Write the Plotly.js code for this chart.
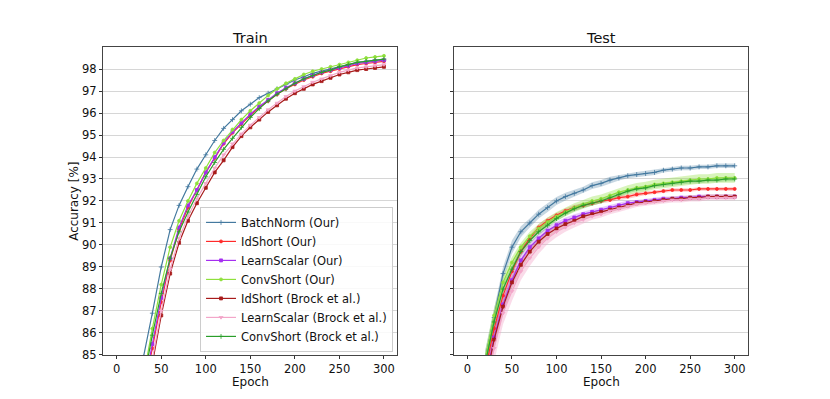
<!DOCTYPE html>
<html><head><meta charset="utf-8">
<script src="https://cdn.plot.ly/plotly-3.0.1.min.js"></script>
<style>html,body{margin:0;padding:0;background:#fff}#chart{width:830px;height:399px}</style>
</head><body><div id="chart"></div>
<script>
// ---------- data ----------
const epochs = [0,10,20,30,40,50,60,70,80,90,100,110,120,130,140,150,160,170,180,190,200,210,220,230,240,250,260,270,280,290,300];
const seriesNames = ["BatchNorm (Our)","IdShort (Our)","LearnScalar (Our)","ConvShort (Our)","IdShort (Brock et al.)","LearnScalar (Brock et al.)","ConvShort (Brock et al.)"];
const xTicks = [0,50,100,150,200,250,300];
const yTicks = [85,86,87,88,89,90,91,92,93,94,95,96,97,98];

const trainBatchNorm       = [30,70,81.5,84.9,86.9,89.0,90.7,91.8,92.65,93.45,94.1,94.75,95.3,95.7,96.1,96.4,96.7,96.9,97.1,97.3,97.5,97.65,97.8,97.9,98.0,98.1,98.2,98.3,98.35,98.4,98.4];
const trainIdShortOur      = [28,66,79.3,83.3,85.3,87.4,89.3,90.7,91.7,92.5,93.3,93.95,94.6,95.1,95.5,95.9,96.25,96.55,96.85,97.1,97.3,97.5,97.65,97.8,97.9,98.0,98.1,98.2,98.25,98.3,98.35];
const trainLearnScalarOur  = [28,66,79.5,83.4,85.5,87.6,89.4,90.8,91.8,92.5,93.3,94.0,94.65,95.15,95.55,95.95,96.3,96.6,96.9,97.15,97.35,97.55,97.7,97.85,97.95,98.05,98.15,98.25,98.3,98.35,98.4];
const trainConvShortOur    = [29,68,80.5,84.0,86.2,88.2,89.9,91.1,92.0,92.8,93.5,94.2,94.75,95.25,95.7,96.1,96.45,96.8,97.1,97.35,97.55,97.75,97.9,98.0,98.1,98.2,98.3,98.4,98.5,98.55,98.6];
const trainIdShortBrock    = [27,65,78.5,82.7,84.6,86.8,88.7,90.1,91.1,91.9,92.6,93.3,93.85,94.45,94.95,95.35,95.7,96.05,96.35,96.65,96.9,97.1,97.3,97.45,97.6,97.75,97.85,97.95,98.0,98.05,98.1];
const trainLearnScalarBrock= [27,65,78.8,82.8,84.8,87.0,88.9,90.3,91.3,92.1,92.8,93.5,94.1,94.6,95.05,95.45,95.8,96.15,96.45,96.75,97.0,97.2,97.4,97.55,97.7,97.85,97.95,98.05,98.1,98.15,98.2];
const trainConvShortBrock  = [28,67,80.0,83.8,85.9,87.8,89.4,90.6,91.5,92.3,93.1,93.75,94.35,94.85,95.35,95.8,96.2,96.55,96.85,97.1,97.35,97.55,97.7,97.85,97.95,98.1,98.2,98.3,98.35,98.4,98.45];

const testBatchNorm        = [40,72,84.8,86.7,88.7,89.9,90.6,91.0,91.4,91.7,92.0,92.2,92.35,92.5,92.7,92.8,92.95,93.05,93.15,93.2,93.25,93.3,93.4,93.45,93.5,93.5,93.55,93.55,93.6,93.6,93.6];
const testIdShortOur       = [38,70,84.3,86.2,87.7,88.8,89.7,90.3,90.8,91.1,91.35,91.55,91.7,91.8,91.9,92.0,92.05,92.15,92.2,92.3,92.35,92.4,92.45,92.5,92.5,92.5,92.55,92.55,92.55,92.55,92.55];
const testLearnScalarOur   = [37,69,83.8,85.8,87.3,88.4,89.3,89.9,90.3,90.65,90.9,91.1,91.25,91.4,91.5,91.6,91.7,91.8,91.9,91.95,92.0,92.05,92.1,92.1,92.15,92.15,92.2,92.2,92.2,92.2,92.2];
const testConvShortOur     = [39,71,84.8,86.8,88.3,89.2,89.9,90.4,90.75,91.05,91.3,91.5,91.7,91.85,92.0,92.1,92.25,92.4,92.5,92.6,92.65,92.75,92.8,92.85,92.9,92.95,93.0,93.0,93.05,93.05,93.05];
const testIdShortBrock     = [37,69,83.7,85.7,87.2,88.3,89.1,89.7,90.15,90.5,90.75,90.95,91.1,91.3,91.4,91.5,91.6,91.7,91.8,91.9,91.95,92.0,92.05,92.1,92.1,92.15,92.15,92.2,92.2,92.2,92.2];
const testLearnScalarBrock = [36,68,83.3,85.3,86.9,87.9,88.8,89.4,89.9,90.3,90.6,90.8,91.0,91.15,91.3,91.4,91.55,91.65,91.75,91.85,91.9,91.95,92.0,92.05,92.05,92.1,92.1,92.15,92.15,92.15,92.15];
const testConvShortBrock   = [39,71,84.6,86.5,88.0,88.9,89.7,90.2,90.6,90.9,91.2,91.45,91.65,91.8,91.9,92.0,92.15,92.3,92.45,92.55,92.6,92.7,92.75,92.8,92.85,92.9,92.9,92.95,92.95,93.0,93.0];

// half-width of the shaded spread around each test curve
const spreadBatchNorm        = [1,1,0.4,0.35,0.3,0.3,0.25,0.2,0.2,0.2,0.18,0.18,0.15,0.15,0.15,0.15,0.15,0.12,0.12,0.12,0.12,0.12,0.1,0.1,0.1,0.1,0.1,0.1,0.1,0.1,0.1];
const spreadIdShortOur       = [1,1,0.4,0.3,0.25,0.2,0.2,0.15,0.15,0.15,0.12,0.12,0.12,0.1,0.1,0.1,0.1,0.1,0.1,0.1,0.08,0.08,0.08,0.08,0.08,0.08,0.08,0.08,0.08,0.08,0.08];
const spreadLearnScalarOur   = [1,1,0.5,0.4,0.35,0.3,0.25,0.2,0.2,0.18,0.15,0.15,0.15,0.12,0.12,0.12,0.12,0.12,0.12,0.1,0.1,0.1,0.1,0.1,0.1,0.1,0.1,0.1,0.1,0.1,0.1];
const spreadConvShortOur     = [1,1,0.4,0.35,0.3,0.25,0.2,0.2,0.2,0.2,0.2,0.2,0.2,0.2,0.2,0.2,0.2,0.2,0.22,0.22,0.22,0.22,0.22,0.22,0.22,0.22,0.22,0.22,0.22,0.22,0.22];
const spreadIdShortBrock     = [1,1,0.5,0.4,0.35,0.3,0.25,0.2,0.2,0.18,0.15,0.15,0.15,0.12,0.12,0.12,0.12,0.12,0.1,0.1,0.1,0.1,0.1,0.1,0.1,0.1,0.1,0.1,0.1,0.1,0.1];
const spreadLearnScalarBrock = [1,1,0.7,0.6,0.5,0.45,0.4,0.35,0.3,0.25,0.25,0.2,0.2,0.18,0.15,0.15,0.15,0.15,0.12,0.12,0.12,0.12,0.12,0.12,0.12,0.12,0.12,0.12,0.12,0.12,0.12];
const spreadConvShortBrock   = [1,1,0.4,0.3,0.25,0.2,0.2,0.15,0.15,0.15,0.12,0.12,0.12,0.12,0.12,0.1,0.1,0.1,0.1,0.1,0.1,0.1,0.1,0.1,0.1,0.1,0.1,0.1,0.1,0.1,0.1];

// ---------- styles ----------
const trainData = [trainBatchNorm,trainIdShortOur,trainLearnScalarOur,trainConvShortOur,trainIdShortBrock,trainLearnScalarBrock,trainConvShortBrock];
const testData  = [testBatchNorm,testIdShortOur,testLearnScalarOur,testConvShortOur,testIdShortBrock,testLearnScalarBrock,testConvShortBrock];
const spreadData= [spreadBatchNorm,spreadIdShortOur,spreadLearnScalarOur,spreadConvShortOur,spreadIdShortBrock,spreadLearnScalarBrock,spreadConvShortBrock];
const colors = ["#44799f","#ff2a2a","#a52ef0","#8fe03c","#a81b1b","#f3a6c9","#2a9e2a"];
const bandColors = ["rgba(68,121,159,0.3)","rgba(255,42,42,0.25)","rgba(165,46,240,0.25)","rgba(143,224,60,0.35)","rgba(168,27,27,0.25)","rgba(243,166,201,0.4)","rgba(42,158,42,0.25)"];
const symbols = ["cross-thin","circle","square","circle","square","triangle-down","cross-thin"];
const sizes = [3.5,3,3,3,3,3.5,3.5];

const FONT = "DejaVu Sans, Verdana, sans-serif";
const traces = [];

function lineTrace(i, ys, xa, ya, legend) {
  return {
    x: epochs, y: ys, xaxis: xa, yaxis: ya, type: "scatter", mode: "lines+markers",
    name: seriesNames[i], legendgroup: seriesNames[i], showlegend: legend,
    line: {color: colors[i], width: 1.2},
    marker: {symbol: symbols[i], size: sizes[i], color: colors[i], line: {color: colors[i], width: 0.8}},
    hoverinfo: "skip"
  };
}

for (let i = 0; i < 7; i++) traces.push(lineTrace(i, trainData[i], "x", "y", true));

for (let i = 0; i < 7; i++) {
  const lo = testData[i].map((v, k) => v - spreadData[i][k]);
  const hi = testData[i].map((v, k) => v + spreadData[i][k]);
  traces.push({x: epochs, y: lo, xaxis: "x2", yaxis: "y2", type: "scatter", mode: "lines",
    line: {width: 0, color: bandColors[i]}, showlegend: false, hoverinfo: "skip"});
  traces.push({x: epochs, y: hi, xaxis: "x2", yaxis: "y2", type: "scatter", mode: "lines",
    line: {width: 0, color: bandColors[i]}, fill: "tonexty", fillcolor: bandColors[i], showlegend: false, hoverinfo: "skip"});
}
for (let i = 0; i < 7; i++) traces.push(lineTrace(i, testData[i], "x2", "y2", false));

const commonX = {
  range: [-15, 315], tickvals: xTicks, ticks: "outside", ticklen: 3.5, tickwidth: 1, tickcolor: "#333",
  showline: true, mirror: true, linecolor: "#444", linewidth: 1, showgrid: false, zeroline: false,
  tickfont: {family: FONT, size: 11.5, color: "#111"}
};
const commonY = {
  range: [85, 99], tickvals: yTicks, ticks: "outside", ticklen: 3.5, tickwidth: 1, tickcolor: "#333",
  showline: true, mirror: true, linecolor: "#444", linewidth: 1,
  showgrid: true, gridcolor: "#d6d6d6", gridwidth: 1, zeroline: false,
  tickfont: {family: FONT, size: 11.5, color: "#111"}
};

const yDom = [0.1103, 0.8822];
const xDom1 = [0.1245, 0.4787], xDom2 = [0.547, 0.9013];
const titleFont = {family: FONT, size: 14.5, color: "#111"};
const labelFont = {family: FONT, size: 12, color: "#111"};
const layout = {
  width: 830, height: 399,
  margin: {l: 0, r: 0, t: 0, b: 0},
  paper_bgcolor: "#fff", plot_bgcolor: "#fff",
  font: {family: FONT, color: "#111"},
  showlegend: true,
  xaxis: Object.assign({}, commonX, {domain: xDom1, anchor: "y"}),
  yaxis: Object.assign({}, commonY, {domain: yDom, anchor: "x"}),
  xaxis2: Object.assign({}, commonX, {domain: xDom2, anchor: "y2"}),
  yaxis2: Object.assign({}, commonY, {domain: yDom, anchor: "x2", showticklabels: false}),
  legend: {
    x: 0.241, y: 0.118, xanchor: "left", yanchor: "bottom",
    bgcolor: "rgba(255,255,255,0.85)", bordercolor: "#cccccc", borderwidth: 1,
    font: {family: FONT, size: 11.5, color: "#111"}, tracegroupgap: 0
  },
  annotations: [
    {text: "Train", xref: "paper", yref: "paper", x: (xDom1[0] + xDom1[1]) / 2, y: yDom[1], xanchor: "center", yanchor: "bottom",
      showarrow: false, font: titleFont, yshift: -1},
    {text: "Test", xref: "paper", yref: "paper", x: (xDom2[0] + xDom2[1]) / 2, y: yDom[1], xanchor: "center", yanchor: "bottom",
      showarrow: false, font: titleFont, yshift: -1},
    {text: "Epoch", xref: "paper", yref: "paper", x: (xDom1[0] + xDom1[1]) / 2, y: 0.0426, xanchor: "center", yanchor: "middle",
      showarrow: false, font: labelFont},
    {text: "Epoch", xref: "paper", yref: "paper", x: (xDom2[0] + xDom2[1]) / 2, y: 0.0426, xanchor: "center", yanchor: "middle",
      showarrow: false, font: labelFont},
    {text: "Accuracy [%]", xref: "paper", yref: "paper", x: 0.089, y: (yDom[0] + yDom[1]) / 2, xanchor: "center", yanchor: "middle",
      textangle: -90, showarrow: false, font: labelFont}
  ]
};

Plotly.newPlot("chart", traces, layout, {staticPlot: true, displayModeBar: false});
</script>
</body></html>
